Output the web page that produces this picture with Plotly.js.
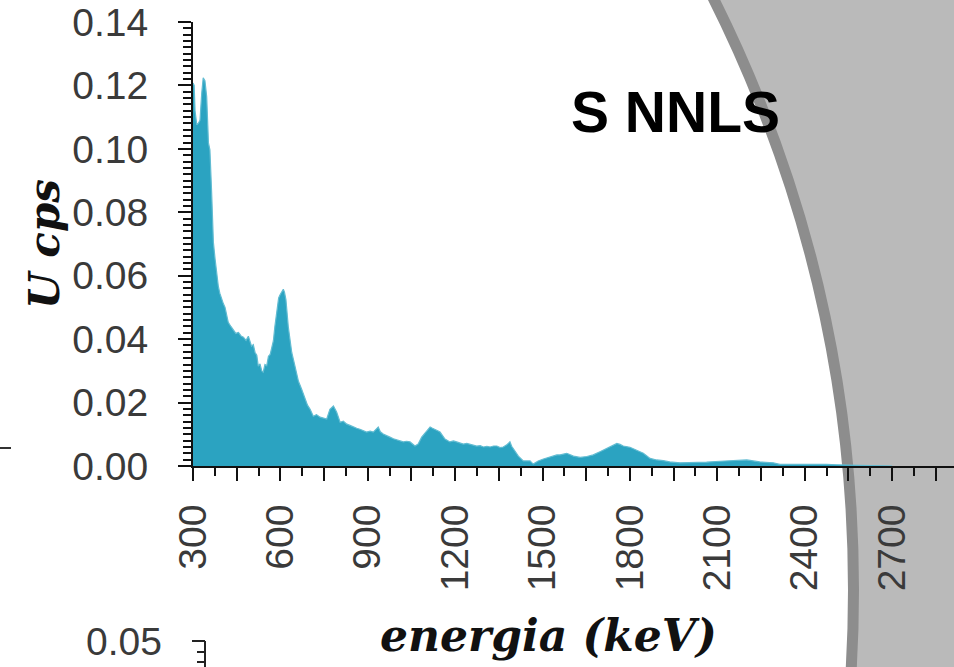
<!DOCTYPE html>
<html>
<head>
<meta charset="utf-8">
<script src="https://cdn.plot.ly/plotly-3.0.1.min.js"></script>
<style>html,body{margin:0;padding:0;background:#fff;} #chart{width:954px;height:667px;}</style>
</head>
<body>
<div id="chart"></div>
<script>
// ---- data (energy in keV, U counts per second) ----
var energy_keV = [300, 304, 307, 313, 318, 324, 330, 335, 341, 347, 353, 358, 364, 370, 376, 381, 387, 392, 398, 404, 410, 416, 421, 430, 438, 447, 456, 465, 473, 482, 490, 501, 507, 513, 519, 524, 530, 536, 541, 547, 553, 559, 565, 570, 576, 581, 589, 594, 599, 605, 610, 614, 619, 627, 633, 639, 650, 662, 673, 684, 693, 702, 713, 724, 736, 748, 759, 770, 782, 793, 805, 816, 828, 839, 850, 862, 873, 885, 896, 908, 919, 936, 943, 953, 965, 976, 988, 999, 1011, 1022, 1033, 1045, 1062, 1073, 1085, 1094, 1102, 1114, 1122, 1131, 1140, 1148, 1165, 1182, 1194, 1205, 1217, 1228, 1240, 1251, 1263, 1274, 1286, 1297, 1309, 1320, 1332, 1343, 1354, 1365, 1376, 1388, 1394, 1400, 1417, 1434, 1457, 1468, 1485, 1503, 1526, 1549, 1560, 1583, 1606, 1629, 1652, 1674, 1697, 1720, 1743, 1755, 1766, 1777, 1800, 1823, 1846, 1869, 1892, 1914, 1937, 1972, 2017, 2063, 2109, 2155, 2201, 2246, 2292, 2315, 2361, 2429, 2475, 2510, 2590, 2670, 2700];
var u_cps = [0.1208, 0.1200, 0.1120, 0.1076, 0.1080, 0.1090, 0.1176, 0.1224, 0.1215, 0.1164, 0.1019, 0.0997, 0.0862, 0.0705, 0.0651, 0.0610, 0.0566, 0.0545, 0.0525, 0.0512, 0.0500, 0.0470, 0.0453, 0.0440, 0.0431, 0.0418, 0.0421, 0.0410, 0.0406, 0.0396, 0.0409, 0.0378, 0.0383, 0.0358, 0.0349, 0.0315, 0.0322, 0.0300, 0.0296, 0.0320, 0.0316, 0.0346, 0.0352, 0.0368, 0.0395, 0.0440, 0.0503, 0.0530, 0.0540, 0.0552, 0.0557, 0.0548, 0.0525, 0.0440, 0.0395, 0.0358, 0.0315, 0.0267, 0.0242, 0.0217, 0.0192, 0.0179, 0.0157, 0.0162, 0.0154, 0.0151, 0.0148, 0.0179, 0.0189, 0.0170, 0.0138, 0.0141, 0.0132, 0.0128, 0.0123, 0.0119, 0.0116, 0.0112, 0.0107, 0.0110, 0.0107, 0.0123, 0.0108, 0.0101, 0.0097, 0.0091, 0.0086, 0.0082, 0.0079, 0.0076, 0.0078, 0.0076, 0.0063, 0.0069, 0.0091, 0.0102, 0.0110, 0.0123, 0.0119, 0.0116, 0.0111, 0.0107, 0.0085, 0.0076, 0.0079, 0.0076, 0.0072, 0.0069, 0.0071, 0.0069, 0.0065, 0.0063, 0.0064, 0.0060, 0.0062, 0.0060, 0.0063, 0.0063, 0.0058, 0.0060, 0.0066, 0.0076, 0.0062, 0.0053, 0.0031, 0.0016, 0.0016, 0.0006, 0.0016, 0.0022, 0.0028, 0.0035, 0.0035, 0.0040, 0.0031, 0.0027, 0.0030, 0.0035, 0.0045, 0.0055, 0.0066, 0.0071, 0.0068, 0.0063, 0.0059, 0.0050, 0.0040, 0.0024, 0.0019, 0.0017, 0.0013, 0.0010, 0.0010, 0.0012, 0.0015, 0.0017, 0.0019, 0.0013, 0.0010, 0.0005, 0.0005, 0.0007, 0.0005, 0.0004, 0.0003, 0.0002, 0.0];

var xTickVals = [300, 450, 600, 750, 900, 1050, 1200, 1350, 1500, 1650, 1800, 1950, 2100, 2250, 2400, 2550, 2700, 2850];
var xTickText = ['300', '', '600', '', '900', '', '1200', '', '1500', '', '1800', '', '2100', '', '2400', '', '2700', ''];

var title = 'S NNLS';
var xTitle = 'energia (keV)';
var yTitle = 'U cps';
var strayLabel = '0.05';

// ---- layout geometry (pixels) ----
var L = 193, R = 954, T = 22, B = 466;
function px(x) { return (x - L) / (R - L); }
function py(y) { return (B - y) / (B - T); }

var cx = -465, cy = 590, rad = 1318.5;
var tickFont = {family: 'Liberation Sans, Arial, sans-serif', size: 39, color: '#3a3a3a'};

var shapes = [
  {type: 'rect', xref: 'paper', yref: 'paper', layer: 'below',
   x0: px(600), x1: px(1000), y0: py(700), y1: py(-10),
   fillcolor: '#bababa', line: {width: 0}},
  {type: 'circle', xref: 'paper', yref: 'paper', layer: 'below',
   x0: px(cx - rad), x1: px(cx + rad), y0: py(cy + rad), y1: py(cy - rad),
   fillcolor: '#ffffff', line: {color: '#8d8d8d', width: 11}},
  {type: 'line', xref: 'paper', yref: 'paper', x0: px(0), x1: px(11), y0: py(448), y1: py(448),
   line: {color: '#333', width: 2}},
  {type: 'line', xref: 'paper', yref: 'paper', x0: px(205), x1: px(205), y0: py(641), y1: py(670),
   line: {color: '#222', width: 2}},
  {type: 'line', xref: 'paper', yref: 'paper', x0: px(192), x1: px(205), y0: py(641), y1: py(641),
   line: {color: '#222', width: 2}},
  {type: 'line', xref: 'paper', yref: 'paper', x0: px(197), x1: px(205), y0: py(652), y1: py(652),
   line: {color: '#222', width: 2}},
  {type: 'line', xref: 'paper', yref: 'paper', x0: px(197), x1: px(205), y0: py(662), y1: py(662),
   line: {color: '#222', width: 2}}
];

var trace = {
  type: 'scatter', mode: 'lines',
  x: energy_keV, y: u_cps,
  line: {color: '#62bcd2', width: 1.2},
  fill: 'tozeroy', fillcolor: '#2ba3c1',
  hoverinfo: 'x+y', showlegend: false
};

var layout = {
  width: 954, height: 667,
  margin: {l: L, r: 954 - R, t: T, b: 667 - B, pad: 0},
  paper_bgcolor: '#ffffff', plot_bgcolor: 'rgba(0,0,0,0)',
  showlegend: false,
  xaxis: {
    range: [300, 300 + (R - L) / 0.2913],
    showline: true, linecolor: '#111', linewidth: 2,
    showgrid: false, zeroline: false,
    tickmode: 'array', tickvals: xTickVals, ticktext: xTickText,
    ticks: 'outside', ticklen: 13, tickwidth: 2, tickcolor: '#111',
    tickangle: -90, tickfont: tickFont, ticklabelstandoff: 8,
    minor: {tickmode: 'linear', tick0: 300, dtick: 75, ticks: 'outside', ticklen: 8, tickwidth: 2, tickcolor: '#111'},
    fixedrange: true
  },
  yaxis: {
    range: [0, 0.14],
    showline: true, linecolor: '#111', linewidth: 2,
    showgrid: false, zeroline: false,
    tickmode: 'linear', tick0: 0, dtick: 0.02, tickformat: '.2f',
    ticks: 'outside', ticklen: 13, tickwidth: 2, tickcolor: '#111',
    tickfont: tickFont, ticklabelstandoff: 22,
    minor: {tickmode: 'linear', tick0: 0, dtick: 0.002, ticks: 'outside', ticklen: 8, tickwidth: 2, tickcolor: '#111'},
    title: {text: yTitle, standoff: 0,
            font: {family: 'DejaVu Serif, serif', size: 42, weight: 'bold', style: 'italic', color: '#111'}},
    fixedrange: true
  },
  shapes: shapes,
  annotations: [
    {text: title, xref: 'paper', yref: 'paper', x: px(675), y: py(112), xanchor: 'center', yanchor: 'middle',
     showarrow: false, font: {family: 'Liberation Sans, Arial, sans-serif', size: 57, weight: 'bold', color: '#000'}},
    {text: xTitle, xref: 'paper', yref: 'paper', x: px(548), y: py(636), xanchor: 'center', yanchor: 'middle',
     showarrow: false, font: {family: 'DejaVu Serif, serif', size: 44, weight: 'bold', style: 'italic', color: '#111'}},
    {text: strayLabel, xref: 'paper', yref: 'paper', x: px(164), y: py(641), xanchor: 'right', yanchor: 'middle',
     showarrow: false, font: tickFont}
  ]
};

Plotly.newPlot('chart', [trace], layout, {displayModeBar: false, staticPlot: true});
</script>
</body>
</html>
